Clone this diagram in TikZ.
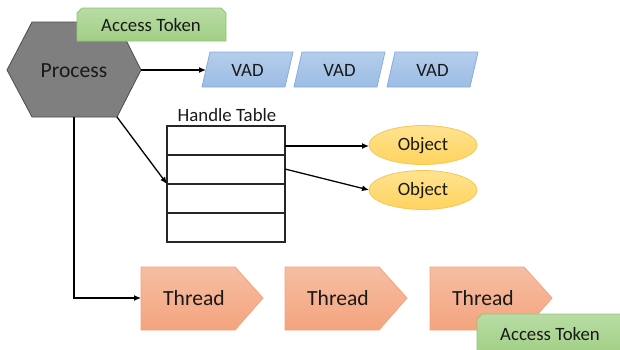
\documentclass[tikz,border=0pt]{standalone}
\usepackage{fontspec}
\setmainfont{Carlito}
\usetikzlibrary{arrows.meta}
\definecolor{hexfill}{HTML}{7F7F7F}
\definecolor{hexline}{HTML}{4D4D4D}
\definecolor{tokentop}{HTML}{B8DCA3}
\definecolor{tokenbot}{HTML}{A1CF86}
\definecolor{tokenline}{HTML}{93C476}
\definecolor{vadtop}{HTML}{B4CDEB}
\definecolor{vadbot}{HTML}{9CBDE5}
\definecolor{vadline}{HTML}{86AEDD}
\definecolor{objtop}{HTML}{FFE390}
\definecolor{objbot}{HTML}{FFD35E}
\definecolor{objline}{HTML}{F5C65A}
\definecolor{thrtop}{HTML}{F6BEA3}
\definecolor{thrbot}{HTML}{F4A47E}
\definecolor{thrline}{HTML}{F4A27A}
\begin{document}
\begin{tikzpicture}[x=1pt, y=-1pt,
  txt/.style={font=\fontsize{18.8}{22}\selectfont, text=black!90, inner sep=0pt},
  bigtxt/.style={font=\fontsize{21.6}{25}\selectfont, text=black!90, inner sep=0pt},
  hexshape/.style={fill=hexfill, draw=hexline, line width=0.8pt},
  tokenshape/.style={top color=tokentop, bottom color=tokenbot, draw=tokenline, line width=0.8pt},
  vadshape/.style={top color=vadtop, bottom color=vadbot, draw=vadline, line width=0.8pt},
  objshape/.style={top color=objtop, bottom color=objbot, draw=objline, line width=0.8pt},
  thrshape/.style={top color=thrtop, bottom color=thrbot, draw=thrline, line width=0.8pt},
  tableline/.style={draw=black!85, line width=1.2pt},
  conn/.style={draw=black, line width=1.3pt, -{Latex[length=7pt,width=6pt]}}]
\useasboundingbox (0,0) rectangle (620,349);
\clip (0,0) rectangle (620,349);

% Process hexagon
\path[hexshape] (7,70) -- (32,22) -- (117,22) -- (141,70) -- (117,117) -- (32,117) -- cycle;
\node[bigtxt] (proc) at (74,71) {Process};
\coordinate (procR) at (141,70);
\coordinate (procBR) at (117,117);
\coordinate (procB) at (74,117);

% Access token of the process
\path[tokenshape] (77,41) -- (77,13) -- (82,8) -- (221,8) -- (226,13) -- (226,41) -- cycle;
\node[txt] (tok1) at (151,25) {Access Token};

% VAD tree
\foreach \dx/\nm in {0/vad1, 92/vad2, 185/vad3} {
  \path[vadshape] (210+\dx,52) -- (293+\dx,52) -- (285+\dx,87) -- (202+\dx,87) -- cycle;
  \node[txt] (\nm) at (247.5+\dx,70) {VAD};
}
\coordinate (vad1L) at (206,70);

% Handle table
\node[txt] (htlabel) at (227,115) {Handle Table};
\draw[tableline] (167,126) rectangle (285,242);
\foreach \yy in {155,184,213} \draw[tableline] (167,\yy) -- (285,\yy);
\coordinate (row3L) at (167,184);
\coordinate (row1R) at (285,146);
\coordinate (row2R) at (285,169);

% Objects
\path[objshape] (423,145) ellipse [x radius=54, y radius=19.5];
\node[txt] (obj1) at (423,146) {Object};
\path[objshape] (423,190) ellipse [x radius=54, y radius=19.5];
\node[txt] (obj2) at (423,191) {Object};
\coordinate (obj1L) at (369,146);
\coordinate (obj2L) at (369,190);

% Threads
\foreach \L/\nm in {141/thr1, 285/thr2, 430/thr3} {
  \path[thrshape] (\L,267) -- (\L+94,267) -- (\L+122,298) -- (\L+94,330) -- (\L,330) -- cycle;
  \node[bigtxt] (\nm) at (\L+53,298) {Thread};
}
\coordinate (thr1L) at (141,298);
\coordinate (bend) at (74,298);

% Access token of the thread
\path[tokenshape] (477,355) -- (477,319) -- (482,314) -- (630,314) -- (630,355) -- cycle;
\node[txt] (tok2) at (550,334) {Access Token};

% Connectors
\draw[conn] (procR) -- (vad1L);
\draw[conn] (procBR) -- (row3L);
\draw[conn] (row1R) -- (obj1L);
\draw[conn] (row2R) -- (obj2L);
\draw[conn] (procB) -- (bend) -- (thr1L);
\end{tikzpicture}
\end{document}
